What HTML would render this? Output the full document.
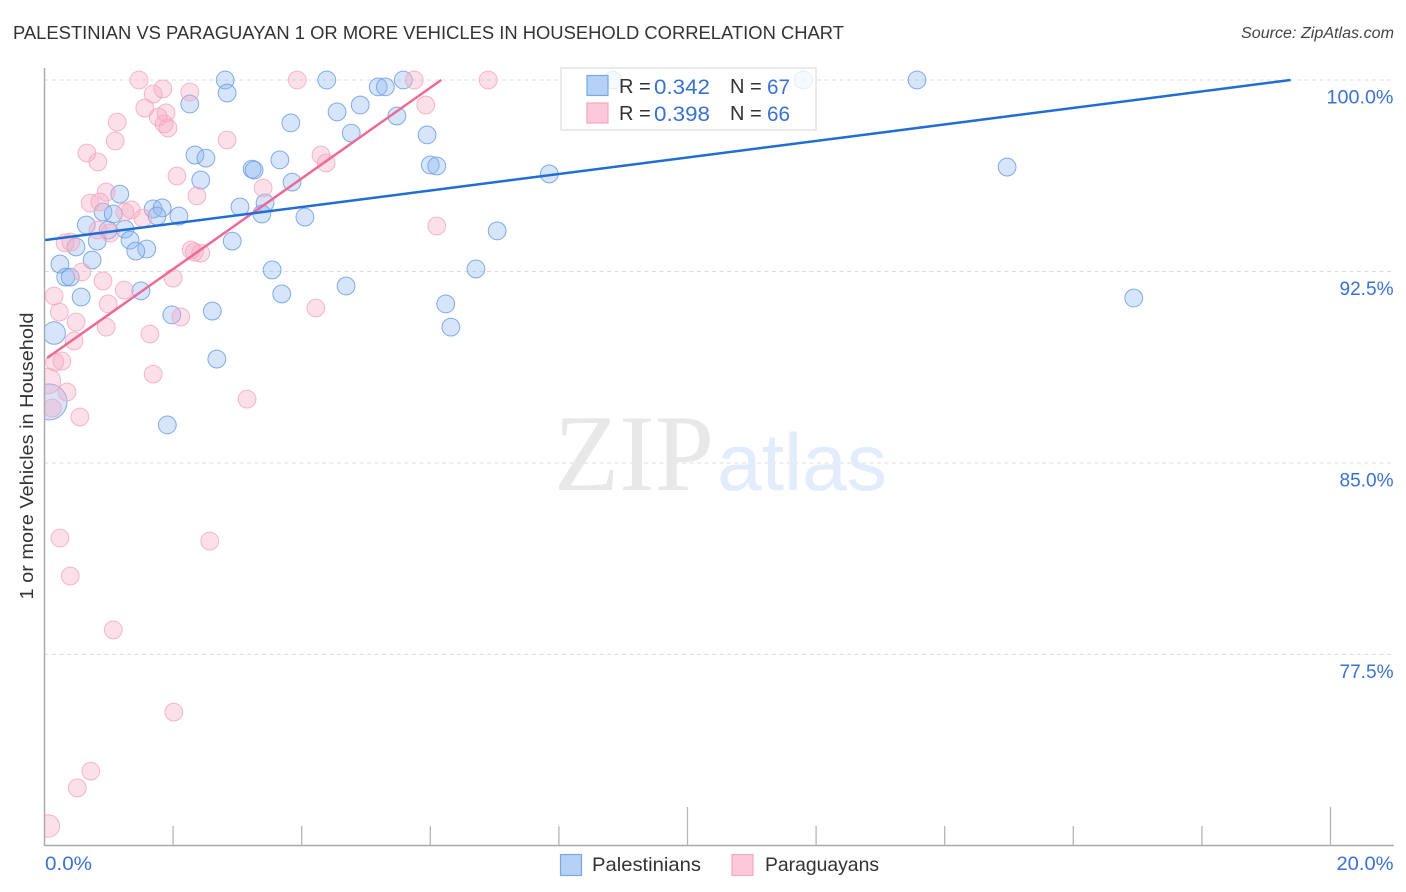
<!DOCTYPE html>
<html lang="en">
<head>
<meta charset="utf-8">
<title>Palestinian vs Paraguayan correlation chart</title>
<style>
html,body{margin:0;padding:0;background:#fff;}
svg{display:block;}
text{font-family:"Liberation Sans",sans-serif;}
</style>
</head>
<body>
<svg id="chart" xmlns="http://www.w3.org/2000/svg" width="1406" height="892" viewBox="0 0 1406 892">
  <rect x="0" y="0" width="1406" height="892" fill="#fff"/>
  <text x="13" y="39" font-size="18.6" fill="#333" textLength="831" lengthAdjust="spacingAndGlyphs">PALESTINIAN VS PARAGUAYAN 1 OR MORE VEHICLES IN HOUSEHOLD CORRELATION CHART</text>
  <text x="1394" y="38" font-size="15.5" font-style="italic" fill="#444" text-anchor="end" textLength="153" lengthAdjust="spacingAndGlyphs">Source: ZipAtlas.com</text>
  <g id="grid"></g>
  <g>
    <text x="554" y="490" font-size="109" fill="#e8e8e8" style="font-family:'Liberation Serif',serif" textLength="160" lengthAdjust="spacingAndGlyphs">ZIP</text>
    <text x="717" y="490" font-size="81" fill="#e3ecfa" style="font-family:'Liberation Sans',sans-serif" textLength="170" lengthAdjust="spacingAndGlyphs">atlas</text>
  </g>
  <g id="points"></g>
  <g id="trends"></g>
  <rect x="0" y="60" width="44.5" height="790" fill="#fff"/>
  <g id="axes"></g>
  <text transform="translate(33,456) rotate(-90)" font-size="18.5" fill="#333" text-anchor="middle" textLength="287" lengthAdjust="spacingAndGlyphs">1 or more Vehicles in Household</text>

  <g>
    <rect x="561" y="68" width="255" height="62" fill="#fff" fill-opacity="0.78" stroke="#e4e4e4" stroke-width="1.5"/>
    <rect x="587" y="75.500" width="21" height="20" fill="#b5d1f5" stroke="#79a8e6" stroke-width="1.2"/>
    <rect x="587" y="103" width="21" height="20" fill="#fcc8da" stroke="#f4a6c0" stroke-width="1.2"/>
    <text x="619" y="93" font-size="20" fill="#333">R =</text>
    <text x="654" y="94" font-size="21" fill="#3a72cf" textLength="56" lengthAdjust="spacingAndGlyphs">0.342</text>
    <text x="730" y="93" font-size="20" fill="#333">N =</text>
    <text x="767" y="94" font-size="21" fill="#3a72cf" textLength="23" lengthAdjust="spacingAndGlyphs">67</text>
    <text x="619" y="120" font-size="20" fill="#333">R =</text>
    <text x="654" y="121" font-size="21" fill="#3a72cf" textLength="56" lengthAdjust="spacingAndGlyphs">0.398</text>
    <text x="730" y="120" font-size="20" fill="#333">N =</text>
    <text x="767" y="121" font-size="21" fill="#3a72cf" textLength="23" lengthAdjust="spacingAndGlyphs">66</text>
  </g>

  <g>
    <rect x="560.500" y="854.500" width="21" height="21" fill="#b5d1f5" stroke="#79a8e6" stroke-width="1.2"/>
    <text x="592" y="871" font-size="19.500" fill="#333" textLength="109" lengthAdjust="spacingAndGlyphs">Palestinians</text>
    <rect x="732" y="854.500" width="21" height="21" fill="#fcc8da" stroke="#f4a6c0" stroke-width="1.2"/>
    <text x="765" y="871" font-size="19.500" fill="#333" textLength="114" lengthAdjust="spacingAndGlyphs">Paraguayans</text>
  </g>
</svg>
<script>
const xTicks = [0, 2, 4, 6, 8, 10, 12, 14, 16, 18, 20];
const xMajorTicks = [10, 20];
const xLabels = ['0.0%', '20.0%'];
const yTicks = [100, 92.5, 85, 77.5];
const yLabels = ['100.0%', '92.5%', '85.0%', '77.5%'];

const palestinianX = [2.81,4.39,5.58,13.57,11.80,8.84,5.19,5.30,2.84,2.26,4.91,4.55,5.48,3.83,4.77,5.95,2.34,2.51,3.66,6.00,6.10,14.97,3.23,3.26,7.85,2.43,3.85,1.17,3.43,3.04,1.69,1.83,0.91,1.07,1.75,2.09,3.38,4.05,0.65,1.25,0.99,7.04,1.33,0.82,2.92,0.49,1.59,1.42,0.74,0.24,3.54,6.71,0.33,0.40,4.69,1.50,3.69,0.57,6.24,16.94,2.61,1.98,6.32,0.15,2.68,0.07,1.91];
const palestinianY = [100,100,100,100,100,100,99.73,99.73,99.49,99.06,99.02,98.75,98.59,98.32,97.92,97.85,97.06,96.94,96.87,96.67,96.63,96.59,96.51,96.47,96.32,96.08,96.00,95.53,95.18,95.03,94.95,94.99,94.83,94.75,94.67,94.67,94.75,94.63,94.32,94.16,94.12,94.09,93.73,93.69,93.69,93.46,93.38,93.30,92.95,92.79,92.56,92.60,92.28,92.28,91.93,91.74,91.62,91.50,91.23,91.46,90.95,90.80,90.32,90.09,89.07,87.39,86.49];
const palestinianSizes = [1,1,1,1,1,1,1,1,1,1,1,1,1,1,1,1,1,1,1,1,1,1,1,1,1,1,1,1,1,1,1,1,1,1,1,1,1,1,1,1,1,1,1,1,1,1,1,1,1,1,1,1,1,1,1,1,1,1,1,1,1,1,1,1.6,1,4.1,1];

const paraguayanX = [1.47,3.93,5.75,6.90,1.84,1.69,2.26,1.56,1.89,1.77,1.86,1.92,1.13,1.10,0.66,0.83,2.84,2.06,2.37,0.96,0.71,0.86,1.35,1.25,1.53,0.83,1.02,0.32,0.41,2.28,2.33,2.43,0.58,0.91,1.24,2.00,0.15,0.99,0.23,0.49,2.12,4.22,4.30,4.38,3.40,0.96,0.46,1.64,0.27,0.16,1.69,0.05,0.35,0.12,0.55,3.15,6.10,5.93,0.24,0.40,1.07,2.57,2.01,0.72,0.51,0.06];
const paraguayanY = [100,100,100,100,99.65,99.45,99.53,98.90,98.71,98.55,98.28,98.12,98.35,97.61,97.14,96.79,97.65,96.24,95.46,95.61,95.18,95.22,94.91,94.83,94.59,94.12,94.01,93.62,93.65,93.34,93.26,93.22,92.48,92.13,91.77,92.24,91.54,91.23,90.91,90.52,90.72,91.07,97.06,96.75,95.77,90.32,89.78,90.05,88.99,88.95,88.48,88.21,87.78,87.15,86.80,87.50,94.28,99.02,82.06,80.57,78.46,81.94,75.24,72.93,72.27,70.78];
const paraguayanSizes = [1,1,1,1,1,1,1,1,1,1,1,1,1,1,1,1,1,1,1,1,1,1,1,1,1,1,1,1,1,1,1,1,1,1,1,1,1,1,1,1,1,1,1,1,1,1,1,1,1,1,1,2.1,1,1,1,1,1,1,1,1,1,1,1,1,1,1.6];

const palestinianTrendX = [0, 19.38];
const palestinianTrendY = [93.73, 100];
const paraguayanTrendX = [0.04, 6.17];
const paraguayanTrendY = [89.11, 100];

const NS = 'http://www.w3.org/2000/svg';
function xScale(v) { return 44.5 + v * 64.3; }
function yScale(v) { return 80 + (100 - v) * 25.53; }
function make(tag, attrs) {
  const el = document.createElementNS(NS, tag);
  for (const k in attrs) el.setAttribute(k, attrs[k]);
  return el;
}

const gridG = document.getElementById('grid');
yTicks.forEach(function (t) {
  const line = make('line', { x1: 44.5, x2: 1394, y1: yScale(t), y2: yScale(t), stroke: '#dcdcdc', 'stroke-width': 1, 'stroke-dasharray': '4 3.5' });
  
  
  gridG.appendChild(line);
});

const axesG = document.getElementById('axes');
const yAxisLine = make('line', { x1: 44.5, x2: 44.5, y1: 68, y2: 846, stroke: '#aaa', 'stroke-width': 1.5 });


axesG.appendChild(yAxisLine);
const xAxisLine = make('line', { x1: 44, x2: 1394, y1: 845.500, y2: 845.500, stroke: '#aaa', 'stroke-width': 1.5 });


axesG.appendChild(xAxisLine);

xTicks.forEach(function (t) {
  if (t === 0) return;
  const top = xMajorTicks.indexOf(t) >= 0 ? 807 : 826;
  const tick = make('line', { x1: xScale(t), x2: xScale(t), y1: top, y2: 845, stroke: '#b5b5b5', 'stroke-width': 1.3 });
  
  
  axesG.appendChild(tick);
});

yTicks.forEach(function (t, i) {
  const label = make('text', { x: 1393.5, y: yScale(t) + 23.5, 'text-anchor': 'end', 'font-size': 19, fill: '#3a72cf', textLength: (yLabels[i].length === 6 ? 67 : 54), lengthAdjust: 'spacingAndGlyphs' });
  label.textContent = yLabels[i];
  
  
  axesG.appendChild(label);
});

const xLabelStart = make('text', { x: 45, y: 870, 'font-size': 19, fill: '#3a72cf', textLength: 47, lengthAdjust: 'spacingAndGlyphs' });
xLabelStart.textContent = xLabels[0];


axesG.appendChild(xLabelStart);
const xLabelEnd = make('text', { x: 1393.5, y: 870, 'text-anchor': 'end', 'font-size': 19, fill: '#3a72cf', textLength: 57, lengthAdjust: 'spacingAndGlyphs' });
xLabelEnd.textContent = xLabels[1];


axesG.appendChild(xLabelEnd);

const pointsG = document.getElementById('points');
palestinianX.forEach(function (v, i) {
  const c = make('circle', { cx: xScale(v), cy: yScale(palestinianY[i]), r: 8.9 * Math.sqrt(palestinianSizes[i]), fill: '#8db8ee', 'fill-opacity': 0.36, stroke: '#6f9fe6', 'stroke-opacity': 0.85, 'stroke-width': 1 });
  
  
  pointsG.appendChild(c);
});
paraguayanX.forEach(function (v, i) {
  const c = make('circle', { cx: xScale(v), cy: yScale(paraguayanY[i]), r: 8.9 * Math.sqrt(paraguayanSizes[i]), fill: '#f8a9c2', 'fill-opacity': 0.36, stroke: '#f2a6be', 'stroke-opacity': 0.8, 'stroke-width': 1 });
  
  
  pointsG.appendChild(c);
});

const trendsG = document.getElementById('trends');
const paraguayanTrend = make('line', { x1: xScale(paraguayanTrendX[0]), y1: yScale(paraguayanTrendY[0]), x2: xScale(paraguayanTrendX[1]), y2: yScale(paraguayanTrendY[1]), stroke: '#ec6a95', 'stroke-width': 2.5 });


trendsG.appendChild(paraguayanTrend);
const palestinianTrend = make('line', { x1: xScale(palestinianTrendX[0]), y1: yScale(palestinianTrendY[0]), x2: xScale(palestinianTrendX[1]), y2: yScale(palestinianTrendY[1]), stroke: '#1f6ed4', 'stroke-width': 2.5 });


trendsG.appendChild(palestinianTrend);
</script>
</body>
</html>
